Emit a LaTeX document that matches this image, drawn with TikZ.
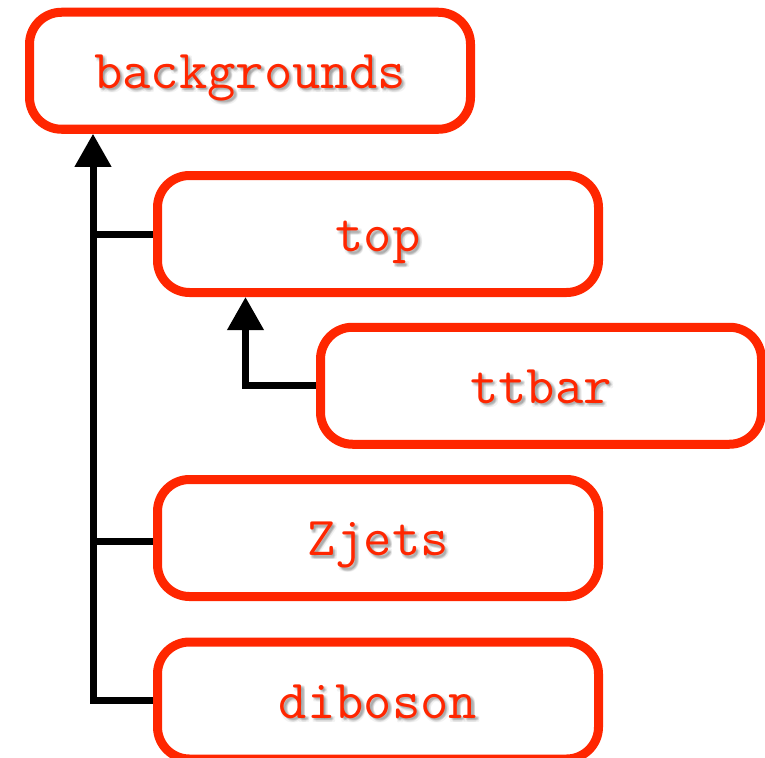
\documentclass[tikz,border=0pt]{standalone}
\usetikzlibrary{arrows.meta,backgrounds}
\definecolor{boxred}{RGB}{255,38,0}
\newcommand\labelfont{\ttfamily\fontsize{55}{57}\selectfont}
\tikzset{
  x=1pt, y=-1pt,
  catbox/.style={draw=boxred, line width=9pt, rounded corners=32pt,
    minimum width=441pt, minimum height=117pt, inner sep=0pt,
    text=boxred, font=\labelfont, text height=40pt, text depth=5pt},
  shadowlabel/.style={text=black, text opacity=0.05, font=\labelfont,
    inner sep=0pt, text height=40pt, text depth=5pt},
  link/.style={line width=7pt, draw=black, miter limit=10},
  tip/.style={-{Triangle[width=35pt,length=33pt]}}
}
% box with a soft drop shadow under its label
\newcommand\catnode[3]{%
  \node[catbox] (#1) at (#2) {#3};
  \begin{pgfonlayer}{background}
    \foreach \dx/\dy [count=\k] in {1.5/2.5,3.5/2.5,2.5/1.5,2.5/3.5,2.5/2.5,1/4,4/4,4/1,1/1}
      \node[shadowlabel] (#1-shade-\k) at ([shift={(\dx,\dy)}]#1.center) {#3};
  \end{pgfonlayer}
}
\begin{document}
\begin{tikzpicture}
  \useasboundingbox (0,0) rectangle (765,757);

  \catnode{bg}{250,70.75}{backgrounds}
  \catnode{top}{378,234}{top}
  \catnode{tt}{541,385.75}{ttbar}
  \catnode{zj}{378,538}{Zjets}
  \catnode{dib}{378,700.5}{diboson}

  \coordinate (trunk) at (93,0);
  \coordinate (branch) at (245.5,0);

  % main trunk up to backgrounds
  \draw[link,tip] (dib.west) -| (trunk |- bg.south);
  \draw[link] (top.west) -- (top.west -| trunk);
  \draw[link] ([yshift=-3pt]zj.west) -- ([yshift=-3pt]zj.west -| trunk);

  % ttbar feeds top
  \draw[link,tip] (tt.west) -| (branch |- top.south);
\end{tikzpicture}
\end{document}
